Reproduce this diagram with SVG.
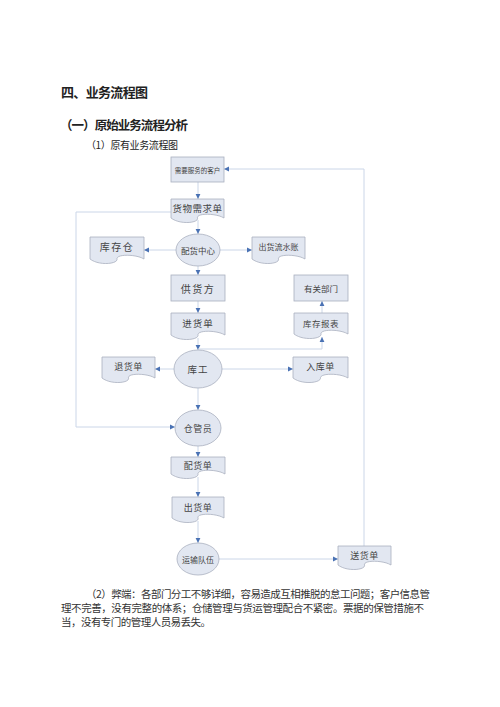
<svg xmlns="http://www.w3.org/2000/svg" width="500" height="707" viewBox="0 0 500 707">
<defs>
<marker id="ah" markerUnits="userSpaceOnUse" markerWidth="6" markerHeight="6" refX="5" refY="3" orient="auto">
<path d="M0,0.6 L5,3 L0,5.4 Z" fill="#4a72b4"/>
</marker>
<style>
.t{font-family:"Noto Sans CJK SC","Liberation Sans",sans-serif;fill:#222;}
.h{font-weight:bold;}
.n{fill:#e2e7f1;stroke:#a9b0bf;stroke-width:0.8;}
.l{font-family:"Noto Sans CJK SC","Liberation Serif",serif;fill:#444;text-anchor:middle;dominant-baseline:central;}
.c{fill:none;stroke:#cbd6e8;stroke-width:1;marker-end:url(#ah);}
.p{font-family:"Noto Sans CJK SC","Liberation Sans",sans-serif;fill:#333;font-size:10.5px;}
</style>
</defs>
<rect width="500" height="707" fill="#fff"/>
<text class="t h" x="61" y="97" font-size="13" textLength="87">四、业务流程图</text>
<text class="t h" x="60" y="130" font-size="12.5" textLength="128">（一）原始业务流程分析</text>
<text class="t" x="86" y="149" font-size="10" textLength="92" fill="#333">（1）原有业务流程图</text>

<g id="connectors">
<line class="c" x1="198" y1="182" x2="198" y2="199"/>
<line class="c" x1="198" y1="220" x2="198" y2="234"/>
<line class="c" x1="176" y1="250" x2="144" y2="250"/>
<line class="c" x1="220" y1="250" x2="252" y2="250"/>
<line class="c" x1="198" y1="266" x2="198" y2="275"/>
<line class="c" x1="198" y1="301" x2="198" y2="313"/>
<line class="c" x1="198" y1="338" x2="198" y2="350"/>
<polyline class="c" points="198,349 322,349 322,337"/>
<line class="c" x1="322" y1="313" x2="322" y2="301"/>
<line class="c" x1="174" y1="369" x2="155" y2="369"/>
<line class="c" x1="222" y1="369" x2="293" y2="369"/>
<line class="c" x1="198" y1="388" x2="198" y2="410"/>
<line class="c" x1="198" y1="446" x2="198" y2="457"/>
<line class="c" x1="198" y1="477" x2="198" y2="497"/>
<line class="c" x1="198" y1="521" x2="198" y2="543"/>
<line class="c" x1="219" y1="559" x2="338" y2="559"/>
<polyline class="c" points="364,546 364,169 224,169"/>
<polyline class="c" points="171,212 76,212 76,427 175,427"/>
</g>

<g id="customer"><rect class="n" x="171" y="157" width="53" height="25"/><text class="l" x="197.5" y="170" font-size="6.5">需要服务的客户</text></g>
<g id="demand"><path class="n" d="M171,199 H224 V218 C216,213 196,213 197.5,218 C199,223 180,225 171,218 Z"/><text class="l" x="197.5" y="208" font-size="9.5" letter-spacing="0.5">货物需求单</text></g>
<g id="center"><ellipse class="n" cx="198" cy="250" rx="22" ry="16"/><text class="l" x="198" y="250" font-size="8.5">配货中心</text></g>
<g id="stock"><path class="n" d="M90,237 H144 V259 C136,254 116,254 117,259 C118,264 99,266 90,259 Z"/><text class="l" x="117" y="246" font-size="10" letter-spacing="1.5">库存仓</text></g>
<g id="ledger"><path class="n" d="M252,237 H305 V259 C297,254 277,254 278.5,259 C280,264 261,266 252,259 Z"/><text class="l" x="278.5" y="246" font-size="8">出货流水账</text></g>
<g id="supplier"><rect class="n" x="171" y="275" width="54" height="26"/><text class="l" x="198" y="288" font-size="10" letter-spacing="1.5">供货方</text></g>
<g id="dept"><rect class="n" x="294" y="275" width="54" height="26"/><text class="l" x="321" y="288" font-size="8.5">有关部门</text></g>
<g id="purchase"><path class="n" d="M171,313 H225 V335 C217,330 197,330 198,335 C199,340 180,342 171,335 Z"/><text class="l" x="198" y="323" font-size="9.5" letter-spacing="1">进货单</text></g>
<g id="report"><path class="n" d="M294,313 H348 V334 C340,329 320,329 321,334 C322,339 303,341 294,334 Z"/><text class="l" x="321" y="323" font-size="8.5" letter-spacing="0.5">库存报表</text></g>
<g id="worker"><ellipse class="n" cx="198" cy="369" rx="24" ry="19"/><text class="l" x="198" y="369" font-size="9.5" letter-spacing="1">库工</text></g>
<g id="return"><path class="n" d="M102,357 H155 V378 C147,373 127,373 128.5,378 C130,383 111,385 102,378 Z"/><text class="l" x="128.5" y="366" font-size="9" letter-spacing="0.5">退货单</text></g>
<g id="inbound"><path class="n" d="M293,357 H348 V378 C340,373 320,373 320.5,378 C321,383 302,385 293,378 Z"/><text class="l" x="320.5" y="366" font-size="9" letter-spacing="0.5">入库单</text></g>
<g id="keeper"><ellipse class="n" cx="198" cy="428" rx="23" ry="18"/><text class="l" x="198" y="428" font-size="9" letter-spacing="0.5">仓管员</text></g>
<g id="dist"><path class="n" d="M171,457 H225 V474 C217,469 197,469 198,474 C199,479 180,481 171,474 Z"/><text class="l" x="198" y="465" font-size="9" letter-spacing="0.5">配货单</text></g>
<g id="ship"><path class="n" d="M172,497 H224 V518 C216,513 196,513 198,518 C200,523 181,525 172,518 Z"/><text class="l" x="198" y="507" font-size="9" letter-spacing="0.5">出货单</text></g>
<g id="transport"><ellipse class="n" cx="198" cy="559" rx="21" ry="16"/><text class="l" x="198" y="559" font-size="8">运输队伍</text></g>
<g id="delivery"><path class="n" d="M338,546 H391 V565 C383,560 363,560 364.5,565 C366,570 347,572 338,565 Z"/><text class="l" x="364.5" y="555" font-size="9" letter-spacing="0.5">送货单</text></g>

<text class="p" x="86" y="598" textLength="344">（2）弊端：各部门分工不够详细，容易造成互相推脱的怠工问题；客户信息管</text>
<text class="p" x="61" y="612" textLength="363">理不完善，没有完整的体系；仓储管理与货运管理配合不紧密。票据的保管措施不</text>
<text class="p" x="61" y="626" textLength="150">当，没有专门的管理人员易丢失。</text>
</svg>
